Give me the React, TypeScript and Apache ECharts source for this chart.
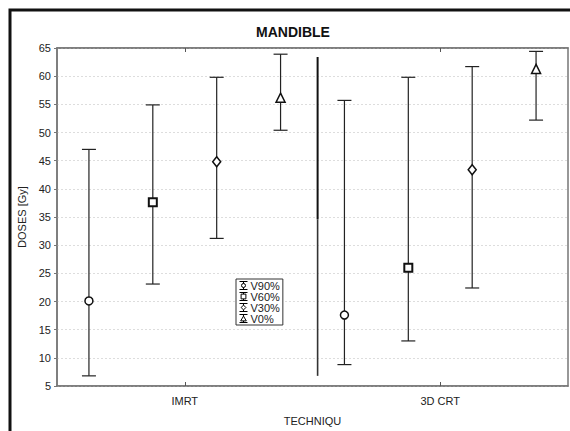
import React, { useEffect, useRef } from "react";
import * as echarts from "echarts";

const categories = ["IMRT", "3D CRT"];
const seriesNames = ["V90%", "V60%", "V30%", "V0%"];
const yTicks = { min: 5, max: 65, step: 5 };

const v90Mean = [20.1, 17.6];
const v90Low = [6.8, 8.8];
const v90High = [47.0, 55.7];

const v60Mean = [37.6, 26.0];
const v60Low = [23.1, 13.0];
const v60High = [54.9, 59.8];

const v30Mean = [44.8, 43.4];
const v30Low = [31.2, 22.4];
const v30High = [59.8, 61.7];

const v0Mean = [56.1, 61.2];
const v0Low = [50.4, 52.2];
const v0High = [63.9, 64.4];

// separator line between groups (category units from IMRT, values)
const sepPos = [0.52];
const sepTop = [63.4];
const sepMid = [34.6];
const sepBottom = [6.8];

const FONT = "Liberation Sans, Arial, sans-serif";
const INK = "#222";

const shapes = ["circle", "square", "diamond", "triangle"];

function buildData(mean: number[], low: number[], high: number[]) {
  return categories.map((_, i) => [i, mean[i], low[i], high[i]]);
}

function makeRender(idx: number, shape: string) {
  return (params: any, api: any) => {
    const cat = api.value(0);
    const mean = api.value(1);
    const lo = api.value(2);
    const hi = api.value(3);
    const band = api.size([1, 0])[0];
    const c = api.coord([cat, mean]);
    const x = c[0] + ((idx - 1.5) * band) / 4;
    const y = c[1];
    const yHi = api.coord([cat, hi])[1];
    const yLo = api.coord([cat, lo])[1];
    const capW = 7;
    const ls = { stroke: INK, lineWidth: 1.2 };
    const mk = { fill: "#fff", stroke: "#111", lineWidth: 1.5 };
    let marker: any;
    if (shape === "circle") {
      marker = { type: "circle", shape: { cx: x, cy: y, r: 4 }, style: mk };
    } else if (shape === "square") {
      marker = { type: "rect", shape: { x: x - 4, y: y - 4, width: 8, height: 8 }, style: { ...mk, lineWidth: 2 } };
    } else if (shape === "diamond") {
      marker = { type: "polygon", shape: { points: [[x, y - 5], [x + 4, y], [x, y + 5], [x - 4, y]] }, style: mk };
    } else {
      marker = { type: "polygon", shape: { points: [[x, y - 5], [x + 4.5, y + 4], [x - 4.5, y + 4]] }, style: mk };
    }
    return {
      type: "group",
      children: [
        { type: "line", shape: { x1: x, y1: yHi, x2: x, y2: yLo }, style: ls },
        { type: "line", shape: { x1: x - capW, y1: yHi, x2: x + capW, y2: yHi }, style: ls },
        { type: "line", shape: { x1: x - capW, y1: yLo, x2: x + capW, y2: yLo }, style: ls },
        marker,
      ],
    };
  };
}

const iconPaths: Record<string, string> = {
  circle: "path://M0,0L10,0M5,0L5,2.5M0,10L10,10M5,7.5L5,10M5,2.5A2.5,2.5,0,1,1,5,7.5A2.5,2.5,0,1,1,5,2.5Z",
  square: "path://M0,0L10,0M5,0L5,2M0,10L10,10M5,8L5,10M2,2L8,2L8,8L2,8Z",
  diamond: "path://M0,0L10,0M5,0L5,2M0,10L10,10M5,8L5,10M5,2L8,5L5,8L2,5Z",
  triangle: "path://M0,0L10,0M5,0L5,2M0,10L10,10M5,8L5,10M5,2L8.5,8L1.5,8Z",
};

export default function App() {
  const ref = useRef<HTMLDivElement>(null);
  useEffect(() => {
    if (!ref.current) return;
    const chart = echarts.init(ref.current, null, { renderer: "svg" });
    const groups = [
      buildData(v90Mean, v90Low, v90High),
      buildData(v60Mean, v60Low, v60High),
      buildData(v30Mean, v30Low, v30High),
      buildData(v0Mean, v0Low, v0High),
    ];
    const series: any[] = groups.map((data, i) => ({
      type: "custom",
      name: seriesNames[i],
      data,
      encode: { x: 0, y: [1, 2, 3] },
      renderItem: makeRender(i, shapes[i]),
      itemStyle: { color: "#fff", borderColor: "#000" },
      z: 3,
    }));
    series.push({
      type: "custom",
      name: "sep",
      data: [[0, sepPos[0], sepTop[0], sepMid[0], sepBottom[0]]],
      encode: { x: 0, y: [2, 3, 4] },
      renderItem: (params: any, api: any) => {
        const band = api.size([1, 0])[0];
        const x = api.coord([0, api.value(2)])[0] + api.value(1) * band;
        const yT = api.coord([0, api.value(2)])[1];
        const yM = api.coord([0, api.value(3)])[1];
        const yB = api.coord([0, api.value(4)])[1];
        return {
          type: "group",
          children: [
            { type: "line", shape: { x1: x, y1: yT, x2: x, y2: yM }, style: { stroke: "#111", lineWidth: 2 } },
            { type: "line", shape: { x1: x, y1: yM, x2: x, y2: yB }, style: { stroke: "#333", lineWidth: 1.6 } },
          ],
        };
      },
      z: 2,
    });

    chart.setOption({
      animation: false,
      backgroundColor: "#fff",
      textStyle: { fontFamily: FONT },
      title: {
        text: "MANDIBLE",
        left: 251,
        top: 20,
        textStyle: { fontSize: 14, fontWeight: "bold", color: "#111", fontFamily: FONT },
      },
      graphic: [
        {
          type: "rect",
          z: -1,
          shape: { x: 10, y: 10, width: 620, height: 520 },
          style: { fill: "none", stroke: "#111", lineWidth: 3 },
          silent: true,
        },
      ],
      legend: {
        orient: "vertical",
        left: 236,
        top: 279,
        padding: [1, 3, 1, 3],
        itemGap: 0,
        itemWidth: 8,
        itemHeight: 8,
        borderColor: "#333",
        borderWidth: 1,
        backgroundColor: "#fff",
        textStyle: { fontSize: 11, lineHeight: 8, color: INK, fontFamily: FONT, padding: [0, 0, 0, -2] },
        data: seriesNames.map((n, i) => ({
          name: n,
          icon: iconPaths[shapes[i]],
          itemStyle: { color: "#fff", borderColor: "#000", borderWidth: 1 },
        })),
      },
      grid: {
        left: 57,
        right: 2,
        top: 48,
        bottom: 44,
        show: true,
        borderColor: "#777",
        borderWidth: 1.5,
        backgroundColor: "transparent",
      },
      xAxis: [
        {
          type: "category",
          data: categories,
          name: "TECHNIQU",
          nameLocation: "middle",
          nameGap: 29,
          nameTextStyle: { fontSize: 11, color: INK, fontFamily: FONT },
          axisLine: { show: true, lineStyle: { color: "#777", width: 1.5 } },
          axisTick: { show: true, inside: true, alignWithLabel: true, length: 4, lineStyle: { color: "#555" } },
          axisLabel: { fontSize: 11, color: INK, margin: 9, fontFamily: FONT },
          splitLine: { show: false },
        },
        {
          type: "category",
          data: categories,
          position: "top",
          axisLine: { show: true, lineStyle: { color: "#777", width: 1.5 } },
          axisTick: { show: true, inside: true, alignWithLabel: true, length: 4, lineStyle: { color: "#555" } },
          axisLabel: { show: false },
          splitLine: { show: false },
        },
      ],
      yAxis: {
        type: "value",
        min: yTicks.min,
        max: yTicks.max,
        interval: yTicks.step,
        name: "DOSES [Gy]",
        nameLocation: "middle",
        nameGap: 30,
        nameTextStyle: { fontSize: 11, color: INK, fontFamily: FONT },
        axisLine: { show: true, lineStyle: { color: "#777", width: 1.5 } },
        axisTick: { show: true, length: 3, lineStyle: { color: "#777" } },
        axisLabel: { fontSize: 11, color: INK, margin: 6, fontFamily: FONT },
        splitLine: { show: true, lineStyle: { color: "#ddd", type: [2, 2], width: 1 } },
      },
      series,
    });
    return () => chart.dispose();
  }, []);
  return (
    <div
      ref={ref}
      style={{ position: "fixed", left: 0, top: 0, width: 570, height: 431 }}
    />
  );
}
